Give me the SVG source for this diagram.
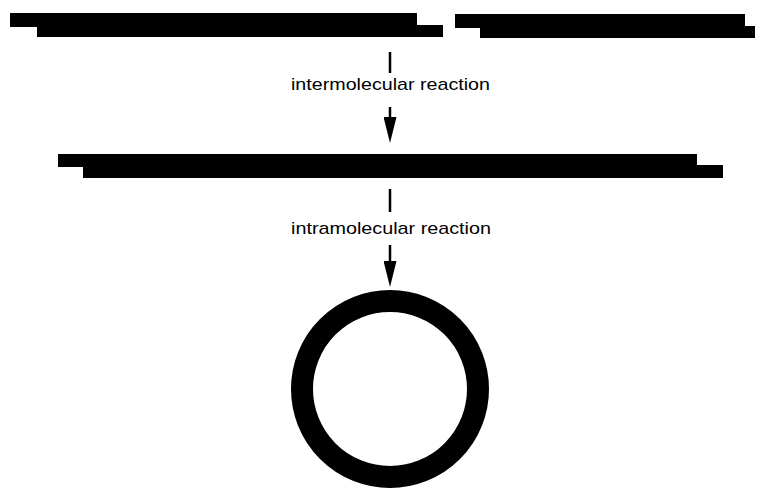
<svg xmlns="http://www.w3.org/2000/svg" width="760" height="490" viewBox="0 0 760 490">
  <style>
    .strand { fill: #000; }
    .shaft { stroke: #000; stroke-width: 2.5; fill: none; }
    .label { font-family: "Liberation Sans", Arial, sans-serif; font-size: 17px; fill: #000; }
    .ring { fill: none; stroke: #000; stroke-width: 22; }
  </style>
  <defs>
    <marker id="head" markerUnits="userSpaceOnUse" markerWidth="26" markerHeight="13" viewBox="0 0 26 13" refX="16" refY="6.5" orient="auto">
      <path d="M0,0 L26,6.5 L0,13 Z" fill="#000"/>
    </marker>
  </defs>
  <rect width="760" height="490" fill="#fff"/>

  <g id="molecule-left">
    <rect class="strand" x="10" y="13" width="407" height="14"/>
    <rect class="strand" x="37" y="25" width="406" height="12"/>
  </g>
  <g id="molecule-right">
    <rect class="strand" x="455" y="14" width="290" height="14"/>
    <rect class="strand" x="480" y="26" width="275" height="12"/>
  </g>
  <g id="molecule-joined">
    <rect class="strand" x="58" y="154" width="639" height="13"/>
    <rect class="strand" x="83" y="165" width="640" height="13"/>
  </g>
  <g id="circle">
    <circle class="ring" cx="390" cy="389" r="88"/>
  </g>

  <g id="connectors">
    <line class="shaft" x1="390" y1="52" x2="390" y2="73"/>
    <line class="shaft" x1="390" y1="107" x2="390" y2="133" marker-end="url(#head)"/>
    <text class="label" x="291" y="90" textLength="199" lengthAdjust="spacingAndGlyphs">intermolecular reaction</text>
    <line class="shaft" x1="390" y1="189" x2="390" y2="212"/>
    <line class="shaft" x1="390" y1="245" x2="390" y2="277" marker-end="url(#head)"/>
    <text class="label" x="291" y="234" textLength="200" lengthAdjust="spacingAndGlyphs">intramolecular reaction</text>
  </g>
</svg>
